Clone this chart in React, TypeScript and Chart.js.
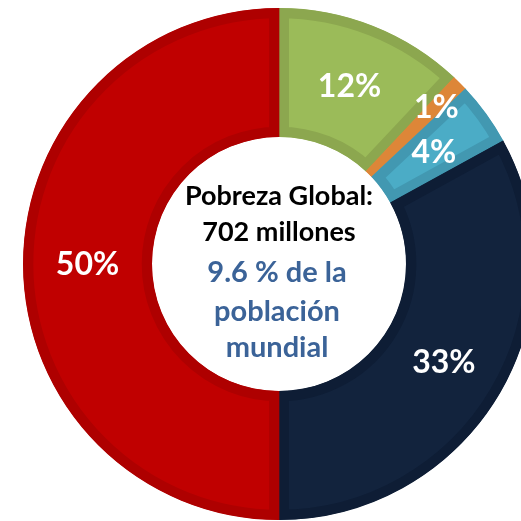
import React, { useEffect, useRef } from "react";
import { Chart, registerables } from "chart.js";

Chart.register(...registerables);

const categories = ["Grupo A", "Grupo B", "Grupo C", "Grupo D", "Grupo E"];
const shares = [12, 1, 4, 33, 50];
const fillColors = ["#9BBB59", "#E08A3C", "#4BACC6", "#12233D", "#C00000"];
const borderColors = ["#8CA74F", "#DD8638", "#4298B1", "#0E1D35", "#AE0000"];
const centerBlack = ["Pobreza Global:", "702 millones"];
const centerBlue = ["9.6 % de la", "población", "mundial"];

const labelPlugin = {
  id: "sliceLabels",
  afterDatasetsDraw(chart: any) {
    const ctx = chart.ctx;
    const meta = chart.getDatasetMeta(0);
    ctx.save();
    ctx.fillStyle = "#FFFFFF";
    ctx.font = "bold 32px Lato";
    ctx.textAlign = "center";
    ctx.textBaseline = "middle";
    meta.data.forEach((arc: any, i: number) => {
      const p = arc.getProps(["x", "y", "startAngle", "endAngle", "innerRadius", "outerRadius"], true);
      const mid = (p.startAngle + p.endAngle) / 2;
      const frac = shares[i] < 2 ? 0.74 : 0.5;
      const r = p.innerRadius + (p.outerRadius - p.innerRadius) * frac;
      ctx.fillText(shares[i] + "%", p.x + Math.cos(mid) * r, p.y + Math.sin(mid) * r + 1);
    });
    // center text
    const a0 = meta.data[0];
    const cx = a0.x;
    const cy = a0.y;
    ctx.fillStyle = "#000000";
    ctx.font = "bold 27px Lato";
    ctx.fillText(centerBlack[0], cx, cy - 68);
    ctx.fillText(centerBlack[1], cx, cy - 32);
    ctx.fillStyle = "#3B6398";
    ctx.font = "bold 29px Lato";
    ctx.fillText(centerBlue[0], cx - 2, cy + 9);
    ctx.fillText(centerBlue[1], cx - 2, cy + 48);
    ctx.fillText(centerBlue[2], cx - 2, cy + 84);
    ctx.restore();
  },
};

export default function App() {
  const ref = useRef<HTMLCanvasElement>(null);
  useEffect(() => {
    if (!ref.current) return;
    const chart = new Chart(ref.current, {
      type: "doughnut",
      data: {
        labels: categories,
        datasets: [
          {
            data: shares,
            backgroundColor: fillColors,
            borderColor: borderColors,
            borderWidth: 10,
            borderAlign: "inner",
            borderJoinStyle: "miter",
            hoverBorderWidth: 10,
          } as any,
        ],
      },
      options: {
        animation: false,
        responsive: false,
        cutout: "49.6%",
        layout: { padding: 4 },
        plugins: {
          legend: { display: false },
          tooltip: { enabled: false },
        },
        events: [],
      },
      plugins: [labelPlugin],
    });
    return () => chart.destroy();
  }, []);
  return (
    <div
      style={{
        position: "fixed",
        left: 0,
        top: 0,
        width: 521,
        height: 521,
        overflow: "hidden",
        background: "#FFFFFF",
      }}
    >
      <canvas
        ref={ref}
        width={520}
        height={520}
        style={{ position: "absolute", left: 19, top: 4, width: 520, height: 520 }}
      />
    </div>
  );
}
